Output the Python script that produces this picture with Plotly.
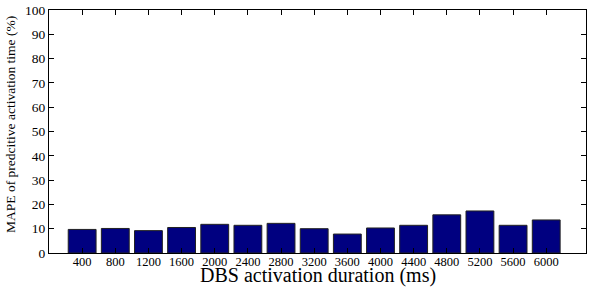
import plotly.graph_objects as go

durations = ["400", "800", "1200", "1600", "2000", "2400", "2800", "3200",
             "3600", "4000", "4400", "4800", "5200", "5600", "6000"]
mape = [9.7, 10.1, 9.2, 10.5, 11.8, 11.4, 12.2, 10.0, 7.8, 10.3, 11.4, 15.7, 17.3, 11.4, 13.6]
y_ticks = list(range(0, 101, 10))

positions = list(range(1, len(durations) + 1))

fig = go.Figure(go.Bar(
    x=positions, y=mape, width=0.84,
    marker=dict(color="#000080", line=dict(color="#222222", width=1)),
))

font_family = "Liberation Serif, Times New Roman, serif"
fig.update_layout(
    width=589, height=288,
    margin=dict(l=49, r=3, t=10, b=35),
    plot_bgcolor="white", paper_bgcolor="white",
    showlegend=False,
    font=dict(family=font_family, color="black", size=13),
    annotations=[
        dict(text="DBS activation duration (ms)", xref="paper", yref="paper",
             x=0.5, y=0, xanchor="center", yanchor="middle", yshift=-22,
             showarrow=False, font=dict(size=20, family=font_family, color="black")),
        dict(text="MAPE of predcitive activation time (%)", xref="paper", yref="paper",
             x=0, y=0.527, xanchor="center", yanchor="middle", xshift=-38, textangle=-90,
             showarrow=False, font=dict(size=13.5, family=font_family, color="black")),
    ],
)
fig.update_xaxes(
    range=[0, 16.2], tickvals=positions, ticktext=durations,
    ticks="inside", ticklen=5, tickcolor="black",
    showline=True, linecolor="black", linewidth=1, mirror="ticks",
    showgrid=False, zeroline=False, automargin=False,
    tickfont=dict(size=12.5, family=font_family), ticklabelstandoff=-3,
)
fig.update_yaxes(
    range=[0, 100], tickvals=y_ticks,
    ticks="inside", ticklen=5, tickcolor="black",
    showline=True, linecolor="black", linewidth=1, mirror="ticks",
    showgrid=False, zeroline=False, automargin=False,
    tickfont=dict(size=13.5, family=font_family),
)

fig.write_html("out.html", config={"displayModeBar": False},
               post_script="document.body.style.margin='0';")
